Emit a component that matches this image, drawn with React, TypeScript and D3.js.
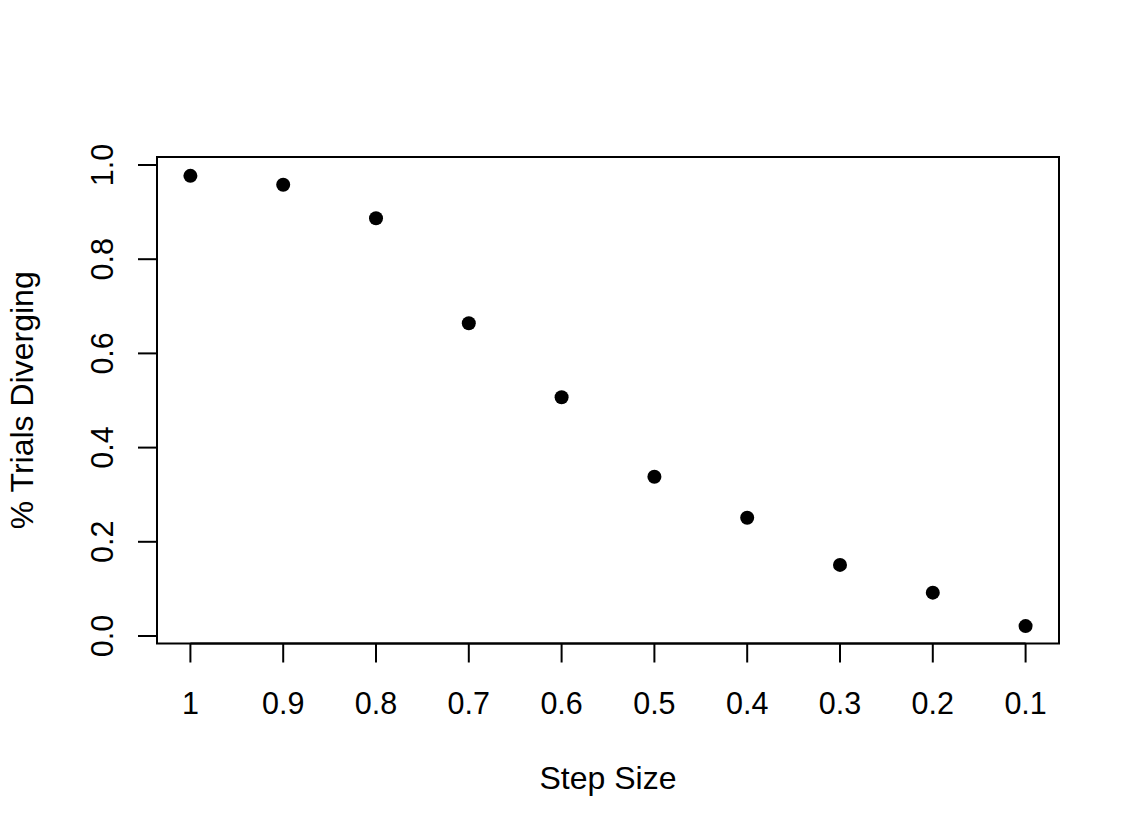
import React from "react";
import * as d3 from "d3";

const stepLabels = ["1", "0.9", "0.8", "0.7", "0.6", "0.5", "0.4", "0.3", "0.2", "0.1"];
const divergingShare = [0.977, 0.958, 0.887, 0.664, 0.507, 0.338, 0.251, 0.151, 0.092, 0.021];
const yTicks = [0, 0.2, 0.4, 0.6, 0.8, 1.0];

const W = 1140;
const H = 840;
const box = { left: 157, right: 1059, top: 157, bottom: 643.5 };
const FONT = "'Liberation Sans', Arial, Helvetica, sans-serif";
const FS = 30.5;
const FS_LAB = 32;

export default function App() {
  const n = stepLabels.length;
  const pad = (n - 1) * 0.04;
  const x = d3.scaleLinear().domain([1 - pad, n + pad]).range([box.left, box.right]);
  const y = d3.scaleLinear().domain([0, 1]).range([636, 165]);
  const tickLen = 19;

  return (
    <svg
      width={W}
      height={H}
      style={{ position: "absolute", left: 0, top: 0, background: "#fff" }}
      fontFamily={FONT}
    >
      <rect x={0} y={0} width={W} height={H} fill="#fff" />
      <rect
        x={box.left}
        y={box.top}
        width={box.right - box.left}
        height={box.bottom - box.top}
        fill="none"
        stroke="#000"
        strokeWidth={2}
      />
      {/* x axis */}
      <line x1={x(1)} x2={x(n)} y1={box.bottom} y2={box.bottom} stroke="#000" strokeWidth={2} />
      {stepLabels.map((lab, i) => (
        <g key={lab}>
          <line
            x1={x(i + 1)}
            x2={x(i + 1)}
            y1={box.bottom}
            y2={box.bottom + tickLen}
            stroke="#000"
            strokeWidth={2}
          />
          <text x={x(i + 1)} y={714} fontSize={FS} textAnchor="middle" fill="#000">
            {lab}
          </text>
        </g>
      ))}
      {/* y axis */}
      <line x1={box.left} x2={box.left} y1={y(0)} y2={y(1)} stroke="#000" strokeWidth={2} />
      {yTicks.map((t) => (
        <g key={t}>
          <line
            x1={box.left - tickLen}
            x2={box.left}
            y1={y(t)}
            y2={y(t)}
            stroke="#000"
            strokeWidth={2}
          />
          <text
            transform={`translate(${113},${y(t)}) rotate(-90)`}
            fontSize={FS}
            textAnchor="middle"
            fill="#000"
          >
            {t.toFixed(1)}
          </text>
        </g>
      ))}
      {/* points */}
      {divergingShare.map((v, i) => (
        <circle key={i} cx={x(i + 1)} cy={y(v)} r={7} fill="#000" />
      ))}
      {/* axis titles */}
      <text x={(box.left + box.right) / 2} y={789} fontSize={FS_LAB} textAnchor="middle" fill="#000">
        Step Size
      </text>
      <text
        transform={`translate(${33},${(box.top + box.bottom) / 2}) rotate(-90)`}
        fontSize={FS_LAB}
        textAnchor="middle"
        fill="#000"
      >
        % Trials Diverging
      </text>
    </svg>
  );
}
